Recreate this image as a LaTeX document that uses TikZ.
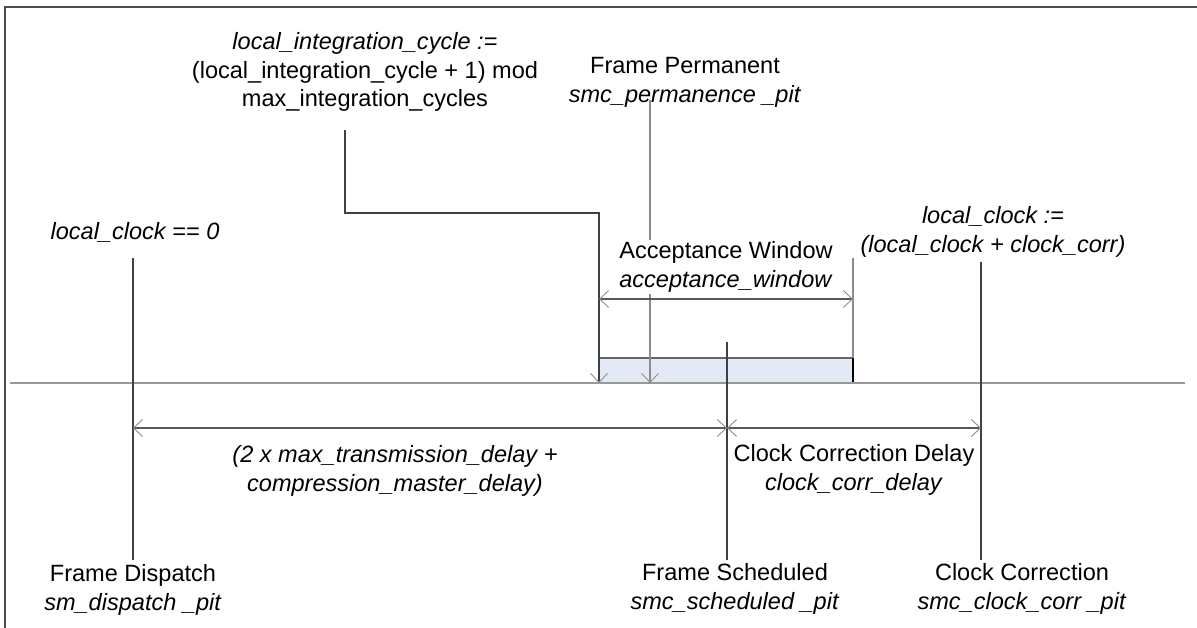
\documentclass[tikz,border=0pt]{standalone}
\usepackage{fontspec}
\setmainfont{Liberation Sans}
\usetikzlibrary{arrows.meta}

\definecolor{winfill}{HTML}{E4EAF5}
\tikzset{
  lbl/.style={font=\fontsize{13.4}{16.4}\selectfont, align=center, inner sep=0pt},
  tline/.style={draw=black!75, line width=0.7pt},
  gline/.style={draw=black!45, line width=0.7pt},
  barb/.tip={Straight Barb[length=1.8mm, width=3.4mm, line width=0.5pt, black!45]},
  dimarrow/.style={draw=black!65, line width=0.6pt, {barb}-{barb}},
  downarrow/.style={-{barb}},
}

\begin{document}
\begin{tikzpicture}[x=0.02cm, y=-0.02cm]
      \useasboundingbox (0,0) rectangle (1197,628);
      % Rahmen
      \draw[black!70, line width=1.2pt] (5,628) -- (5,7) -- (1197,7);

      % Punkte
      \coordinate (axL) at (10,383);
      \coordinate (axR) at (1185,383);
      \coordinate (dispT) at (133,258);
      \coordinate (dispB) at (133,560);
      \coordinate (schedT) at (727,342);
      \coordinate (schedB) at (727,560);
      \coordinate (corrT) at (981,262);
      \coordinate (corrB) at (981,560);
      \coordinate (winLT) at (599,258);
      \coordinate (winLB) at (599,383);
      \coordinate (winRT) at (853,258);
      \coordinate (winRB) at (853,383);
      \coordinate (permT) at (650,100);
      \coordinate (permB) at (650,383);
      \coordinate (intT) at (345,130);

      % Fenster
      \fill[winfill] (599,358) rectangle (winRB);
      \draw[black!60, line width=0.6pt] (599,358) -- (853,358);
      \draw[gline] (winRT) -- (winRB);
      \draw[black, line width=0.9pt] (853,358) -- (winRB);
      \draw[tline] (winLT) -- (winLB);

      % Zeitachse
      \draw[black!40, line width=1.1pt] (axL) -- (axR);

      % Zeitpunkte
      \draw[tline] (dispT) -- (dispB);
      \draw[tline] (schedT) -- (schedB);
      \draw[tline] (corrT) -- (corrB);
      \draw[tline, downarrow] (intT) |- (599,213) -- (winLB);
      \draw[gline, downarrow] (permT) -- (permB);

      % Abstaende
      \draw[dimarrow] (599,299) -- (853,299);
      \draw[dimarrow] (133,428) -- (727,428);
      \draw[dimarrow] (727,428) -- (981,428);

      % Beschriftungen
      \node[lbl] (intcyc) at (365,72) {\textit{local\_integration\_cycle :=}\\(local\_integration\_cycle + 1) mod\\max\_integration\_cycles};
      \node[lbl] (perm) at (685,82) {Frame Permanent\\\textit{smc\_permanence \_pit}};
      \node[lbl] (clkzero) at (135,232) {\textit{local\_clock == 0}};
      \node[lbl] (clkset) at (993,232) {\textit{local\_clock :=}\\\textit{(local\_clock + clock\_corr)}};
      \node[lbl, fill=white, inner sep=1pt] (accwin) at (726,267) {Acceptance Window\\\textit{acceptance\_window}};
      \node[lbl] (txdelay) at (395,471) {\textit{(2 x max\_transmission\_delay +}\\\textit{compression\_master\_delay)}};
      \node[lbl] (ccdelay) at (854,470) {Clock Correction Delay\\\textit{clock\_corr\_delay}};
      \node[lbl] (disp) at (133,590) {Frame Dispatch\\\textit{sm\_dispatch \_pit}};
      \node[lbl] (sched) at (735,589) {Frame Scheduled\\\textit{smc\_scheduled \_pit}};
      \node[lbl] (corr) at (1022,589) {Clock Correction\\\textit{smc\_clock\_corr \_pit}};
\end{tikzpicture}
\end{document}
